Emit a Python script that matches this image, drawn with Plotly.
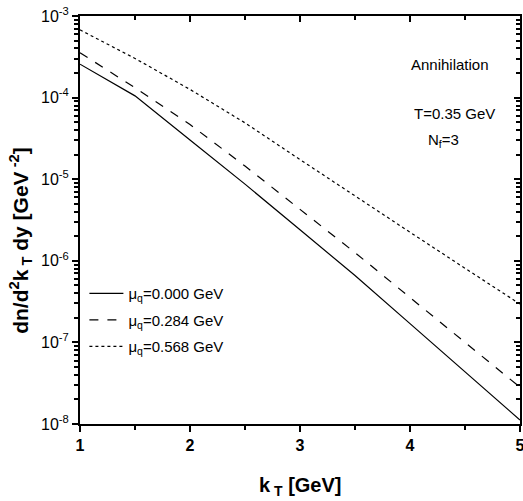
import plotly.graph_objects as go

kT = [1.0, 1.5, 2.0, 2.5, 3.0, 3.5, 4.0, 4.5, 5.0]
rate_mu0 = [2.57e-4, 1.05e-4, 3.02e-5, 8.7e-6, 2.4e-6, 6.6e-7, 1.70e-7, 4.37e-8, 1.12e-8]
rate_mu284 = [3.55e-4, 1.32e-4, 4.68e-5, 1.45e-5, 4.27e-6, 1.26e-6, 3.55e-7, 1.0e-7, 2.82e-8]
rate_mu568 = [6.76e-4, 3.02e-4, 1.26e-4, 4.9e-5, 1.74e-5, 6.17e-6, 2.24e-6, 8.1e-7, 2.95e-7]
series_names = ["μ<sub>q</sub>=0.000 GeV", "μ<sub>q</sub>=0.284 GeV", "μ<sub>q</sub>=0.568 GeV"]
y_tickvals = [1e-8, 1e-7, 1e-6, 1e-5, 1e-4, 1e-3]
y_ticktext = ["10<sup>-8</sup>", "10<sup>-7</sup>", "10<sup>-6</sup>", "10<sup>-5</sup>", "10<sup>-4</sup>", "10<sup>-3</sup>"]
x_tickvals = [1, 2, 3, 4, 5]

FONT = "Liberation Sans, Arial, sans-serif"

fig = go.Figure()
for i, (ys, dash) in enumerate(zip([rate_mu0, rate_mu284, rate_mu568], ["solid", "dash", "dot"])):
    fig.add_trace(go.Scatter(
        x=kT, y=ys, mode="lines", name=series_names[i], legendgroup=f"g{i}",
        line=dict(color="black", width=1.2, dash=dash),
    ))
# empty trace that only brings the top/right frame axes into existence
fig.add_trace(go.Scatter(x=[], y=[], xaxis="x2", yaxis="y2", showlegend=False, hoverinfo="skip"))

fig.update_layout(
    width=523, height=501,
    margin=dict(l=80, r=3, t=16, b=77),
    paper_bgcolor="white", plot_bgcolor="white",
    font=dict(family=FONT, color="black", size=14),
    showlegend=True,
    legend=dict(x=0.01, y=0.36, xanchor="left", yanchor="top",
                bgcolor="rgba(0,0,0,0)", font=dict(size=15, family=FONT),
                traceorder="grouped", tracegroupgap=4, itemwidth=34),
)
axis_common = dict(showgrid=False, zeroline=False, automargin=False,
                   showline=True, linecolor="black", linewidth=2,
                   ticklen=6, tickwidth=1.5, tickcolor="black")
fig.update_layout(
    xaxis=dict(range=[1, 5], tickvals=x_tickvals, ticks="outside", ticklabeloverflow="allow",
               tickfont=dict(size=16, family=FONT, weight="bold"),
               minor=dict(dtick=0.5, ticks="outside", ticklen=4, tickcolor="black", showgrid=False),
               **axis_common),
    yaxis=dict(type="log", range=[-8, -3], tickvals=y_tickvals, ticktext=y_ticktext,
               ticks="outside", ticklabeloverflow="allow",
               tickfont=dict(size=16, family=FONT),
               minor=dict(dtick="D1", ticks="outside", ticklen=4, tickcolor="black", showgrid=False),
               **axis_common),
    # frame axes with inward ticks (top and right)
    xaxis2=dict(overlaying="x", anchor="y2", side="top", range=[1, 5], tickvals=x_tickvals,
                ticks="inside", showticklabels=False,
                minor=dict(dtick=0.5, ticks="inside", ticklen=4, tickcolor="black", showgrid=False),
                **axis_common),
    yaxis2=dict(overlaying="y", anchor="x2", side="right", type="log", range=[-8, -3],
                tickvals=y_tickvals, ticks="inside", showticklabels=False,
                minor=dict(dtick="D1", ticks="inside", ticklen=4, tickcolor="black", showgrid=False),
                **axis_common),
)

# axis titles
fig.add_annotation(x=-0.134, y=0.449, xref="paper", yref="paper", xanchor="center", yanchor="middle",
                   text="dn/d<sup>2</sup>k<sub> T</sub> dy [GeV<sup> -2</sup>]", textangle=-90,
                   showarrow=False, font=dict(size=21, family=FONT, weight="bold"))
fig.add_annotation(x=0.5, y=-0.154, xref="paper", yref="paper", xanchor="center", yanchor="middle",
                   text="k<sub> T</sub> [GeV]",
                   showarrow=False, font=dict(size=20, family=FONT, weight="bold"))

# in-plot labels
fig.add_annotation(x=0.841, y=0.88, xref="paper", yref="paper", xanchor="center", yanchor="middle",
                   text="Annihilation", showarrow=False, font=dict(size=15, family=FONT))
fig.add_annotation(x=0.852, y=0.762, xref="paper", yref="paper", xanchor="center", yanchor="middle",
                   text="T=0.35 GeV", showarrow=False, font=dict(size=15, family=FONT))
fig.add_annotation(x=0.827, y=0.696, xref="paper", yref="paper", xanchor="center", yanchor="middle",
                   text="N<sub>f</sub>=3", showarrow=False, font=dict(size=15, family=FONT))

# remove the default page margin so the 523x501 figure fills the window exactly
fig.write_html("out.html", config={"displayModeBar": False},
               post_script="document.body.style.margin='0';document.body.style.overflow='hidden';")
